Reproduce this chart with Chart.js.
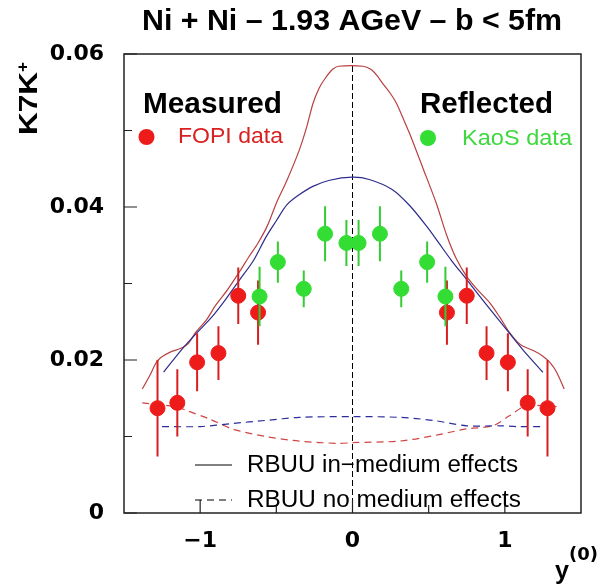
<!DOCTYPE html>
<html><head><meta charset="utf-8">
<script src="https://cdn.jsdelivr.net/npm/chart.js@4"></script>
<style>html,body{margin:0;padding:0;background:#fff}#wrap{width:603px;height:586px;position:relative}</style>
</head><body><div id="wrap"><canvas id="c"></canvas></div>
<script>
// ---- data ----
const fopiX   = [-1.28,-1.15,-1.02,-0.88,-0.75,-0.62, 0.62, 0.75, 0.88, 1.02, 1.15, 1.28];
const fopiY   = [0.0137,0.0144,0.0197,0.0209,0.0284,0.0262, 0.0262,0.0284,0.0209,0.0197,0.0144,0.0137];
const fopiErr = [0.0063,0.0044,0.0038,0.0035,0.0037,0.0042, 0.0042,0.0037,0.0035,0.0038,0.0044,0.0063];

const kaosX   = [-0.61,-0.49,-0.32,-0.18,-0.04, 0.04, 0.18, 0.32, 0.49, 0.61];
const kaosY   = [0.0283,0.0328,0.0293,0.0365,0.0353, 0.0353,0.0365,0.0293,0.0328,0.0283];
const kaosErr = [0.0039,0.0027,0.0024,0.0036,0.0030, 0.0030,0.0036,0.0024,0.0027,0.0039];

const redSolidX = [-1.38,-1.33,-1.29,-1.26,-1.2,-1.13,-1.08,-1.03,-0.96,-0.9,-0.82,-0.74,-0.68,-0.62,-0.56,-0.5,-0.43,-0.35,-0.3,-0.26,-0.22,-0.18,-0.13,-0.09,0.07,0.12,0.16,0.2,0.25,0.29,0.33,0.375,0.46,0.55,0.62,0.68,0.75,0.82,0.9,0.97,1.03,1.08,1.12,1.19,1.25,1.3,1.34,1.39];
const redSolidY = [0.0162,0.0180,0.0196,0.0203,0.0210,0.0215,0.0221,0.0236,0.0252,0.0271,0.0292,0.0316,0.0335,0.0353,0.0375,0.0405,0.0435,0.0474,0.0505,0.0535,0.0555,0.0568,0.0580,0.0584,0.0584,0.0580,0.0572,0.0561,0.0548,0.0535,0.0517,0.0496,0.0452,0.0405,0.0362,0.0333,0.0309,0.0292,0.0275,0.0255,0.0236,0.0224,0.0218,0.0212,0.0205,0.0196,0.0184,0.0162];

const blueSolidX = [-1.24,-1.12,-1.0,-0.92,-0.83,-0.74,-0.65,-0.57,-0.5,-0.43,-0.35,-0.26,-0.15,0,0.11,0.26,0.375,0.49,0.57,0.65,0.75,0.88,1.01,1.12,1.25];
const blueSolidY = [0.0184,0.0214,0.0240,0.0257,0.0280,0.0305,0.0330,0.0360,0.0382,0.0403,0.0416,0.0427,0.0435,0.0439,0.0436,0.0423,0.0402,0.0374,0.0352,0.0330,0.0305,0.0272,0.0240,0.0213,0.0184];

const redDashX = [-1.38,-1.16,-1.09,-0.94,-0.79,-0.57,-0.35,-0.09,0,0.31,0.53,0.75,0.92,1.03,1.14,1.36];
const redDashY = [0.0144,0.0139,0.0134,0.0123,0.0110,0.0100,0.0094,0.0091,0.0092,0.0094,0.0101,0.0110,0.0114,0.0127,0.0140,0.0139];

const blueDashX = [-1.25,-1.0,-0.79,-0.57,-0.35,0,0.31,0.53,0.75,0.97,1.08,1.25];
const blueDashY = [0.0113,0.0113,0.0117,0.0121,0.0125,0.0126,0.0125,0.0121,0.0114,0.0114,0.0113,0.0113];

const xTicks = [-1, 0, 1];
const xMinor = [-0.5, 0.5];
const yTicks = [0, 0.02, 0.04, 0.06];
const yMinor = [0.01, 0.03, 0.05];

// ---- helpers ----
const zip = (xs, ys) => xs.map((x, i) => ({x, y: ys[i]}));
function errSegs(xs, ys, es) {
  const out = [];
  xs.forEach((x, i) => { out.push({x, y: ys[i] - es[i]}, {x, y: ys[i] + es[i]}, {x, y: null}); });
  return out;
}
function fitText(ctx, text, x, y, font, width, color) {
  ctx.save();
  ctx.font = font; ctx.fillStyle = color; ctx.textBaseline = 'alphabetic'; ctx.textAlign = 'left';
  const w = ctx.measureText(text).width;
  ctx.translate(x, y); ctx.scale(width / w, 1);
  ctx.fillText(text, 0, 0);
  ctx.restore();
}

const RED = '#ee1b1b', GREEN = '#33dd33';

const decor = {
  id: 'decor',
  afterDatasetsDraw(chart) {
    const ctx = chart.ctx, a = chart.chartArea;
    const xs = chart.scales.x, ys = chart.scales.y;
    ctx.save();
    ctx.strokeStyle = '#222'; ctx.lineWidth = 1.5;
    ctx.strokeRect(a.left, a.top, a.right - a.left, a.bottom - a.top);
    ctx.lineWidth = 1.2;
    ctx.beginPath();
    yTicks.forEach(v => { const p = ys.getPixelForValue(v); ctx.moveTo(a.left, p); ctx.lineTo(a.left + 13, p); });
    yMinor.forEach(v => { const p = ys.getPixelForValue(v); ctx.moveTo(a.left, p); ctx.lineTo(a.left + 8, p); });
    xTicks.forEach(v => { const p = xs.getPixelForValue(v); ctx.moveTo(p, a.bottom); ctx.lineTo(p, a.bottom - 13); });
    xMinor.forEach(v => { const p = xs.getPixelForValue(v); ctx.moveTo(p, a.bottom); ctx.lineTo(p, a.bottom - 8); });
    ctx.stroke();
    ctx.restore();
  },
  afterDraw(chart) {
    const ctx = chart.ctx;
    fitText(ctx, 'Ni + Ni \u2013 1.93 AGeV \u2013 b < 5fm', 142, 30, 'bold 29px "Liberation Sans"', 420, '#000');
    fitText(ctx, 'Measured', 143, 113, 'bold 29px "Liberation Sans"', 139, '#000');
    fitText(ctx, 'Reflected', 420, 113, 'bold 29px "Liberation Sans"', 133, '#000');
    fitText(ctx, 'FOPI data', 178, 143, '22px "Liberation Sans"', 105, '#d82222');
    fitText(ctx, 'KaoS data', 462, 145, '22px "Liberation Sans"', 110, '#3fd83f');
    ctx.save();
    ctx.fillStyle = RED; ctx.beginPath(); ctx.arc(146.5, 137, 8, 0, Math.PI * 2); ctx.fill();
    ctx.fillStyle = GREEN; ctx.beginPath(); ctx.arc(428, 138, 8, 0, Math.PI * 2); ctx.fill();
    ctx.strokeStyle = '#000'; ctx.lineWidth = 1;
    ctx.beginPath(); ctx.moveTo(195, 465); ctx.lineTo(232, 465); ctx.stroke();
    ctx.setLineDash([7, 5]);
    ctx.beginPath(); ctx.moveTo(195, 500); ctx.lineTo(232, 500); ctx.stroke();
    ctx.restore();
    fitText(ctx, 'RBUU in\u2212medium effects', 247, 472, '23px "Liberation Sans"', 271, '#000');
    fitText(ctx, 'RBUU no medium effects', 247, 507, '23px "Liberation Sans"', 274, '#000');
    ctx.save();
    ctx.translate(37, 135); ctx.rotate(-Math.PI / 2);
    fitText(ctx, 'K7K', 0, 0, 'bold 25px "Liberation Sans"', 63, '#000');
    fitText(ctx, '+', 63, -9, 'bold 16px "Liberation Sans"', 10, '#000');
    ctx.restore();
    fitText(ctx, 'y', 555, 579, 'bold 25px "Liberation Sans"', 14, '#000');
    fitText(ctx, '(0)', 569, 560, 'bold 18px "DejaVu Sans"', 29, '#000');
  }
};

const lineDS = (data, color, dash, order) => ({
  type: 'line', data, borderColor: color, borderWidth: 1.2, borderDash: dash || [],
  pointRadius: 0, fill: false, tension: 0.3, order
});

new Chart(document.getElementById('c'), {
  type: 'scatter',
  data: {
    datasets: [
      lineDS(zip(redSolidX, redSolidY), '#b84040', null, 20),
      lineDS(zip(blueSolidX, blueSolidY), '#2c2c8c', null, 19),
      lineDS(zip(redDashX, redDashY), '#d04545', [7, 5], 18),
      lineDS(zip(blueDashX, blueDashY), '#2c2c9c', [7, 5], 17),
      { type: 'line', data: [{x: 0, y: 0}, {x: 0, y: 0.06}], borderColor: '#000', borderWidth: 1, borderDash: [6, 3], pointRadius: 0, order: 21 },
      { type: 'line', data: errSegs(fopiX, fopiY, fopiErr), borderColor: '#d81f1f', borderWidth: 2, pointRadius: 0, spanGaps: false, order: 8 },
      { data: zip(fopiX, fopiY), backgroundColor: RED, borderColor: RED, pointRadius: 7.5, pointStyle: 'circle', order: 7 },
      { type: 'line', data: errSegs(kaosX, kaosY, kaosErr), borderColor: '#33cc33', borderWidth: 2, pointRadius: 0, spanGaps: false, order: 6 },
      { data: zip(kaosX, kaosY), backgroundColor: GREEN, borderColor: GREEN, pointRadius: 7.5, pointStyle: 'circle', order: 5 }
    ]
  },
  options: {
    responsive: true, maintainAspectRatio: false, animation: false,
    layout: { padding: { top: 54, right: 22, left: 0, bottom: 0 } },
    plugins: { legend: { display: false }, tooltip: { enabled: false }, title: { display: false } },
    scales: {
      x: {
        type: 'linear', min: -1.5, max: 1.5,
        grid: { display: false, drawTicks: false }, border: { display: false },
        afterBuildTicks: ax => { ax.ticks = xTicks.map(v => ({value: v})); },
        afterFit: ax => { ax.height = 73; },
        ticks: { color: '#000', padding: 15, maxRotation: 0, autoSkip: false,
          font: { family: 'DejaVu Sans', weight: 'bold', size: 22 },
          callback: v => v < 0 ? '\u2212' + Math.abs(v) : String(v) }
      },
      y: {
        min: 0, max: 0.06,
        grid: { display: false, drawTicks: false }, border: { display: false },
        afterBuildTicks: ax => { ax.ticks = yTicks.map(v => ({value: v})); },
        afterFit: ax => { ax.width = 124; },
        ticks: { color: '#000', padding: 20, autoSkip: false,
          font: { family: 'DejaVu Sans', weight: 'bold', size: 22 },
          callback: v => v === 0 ? '0' : v.toFixed(2) }
      }
    }
  },
  plugins: [decor]
});
</script></body></html>
